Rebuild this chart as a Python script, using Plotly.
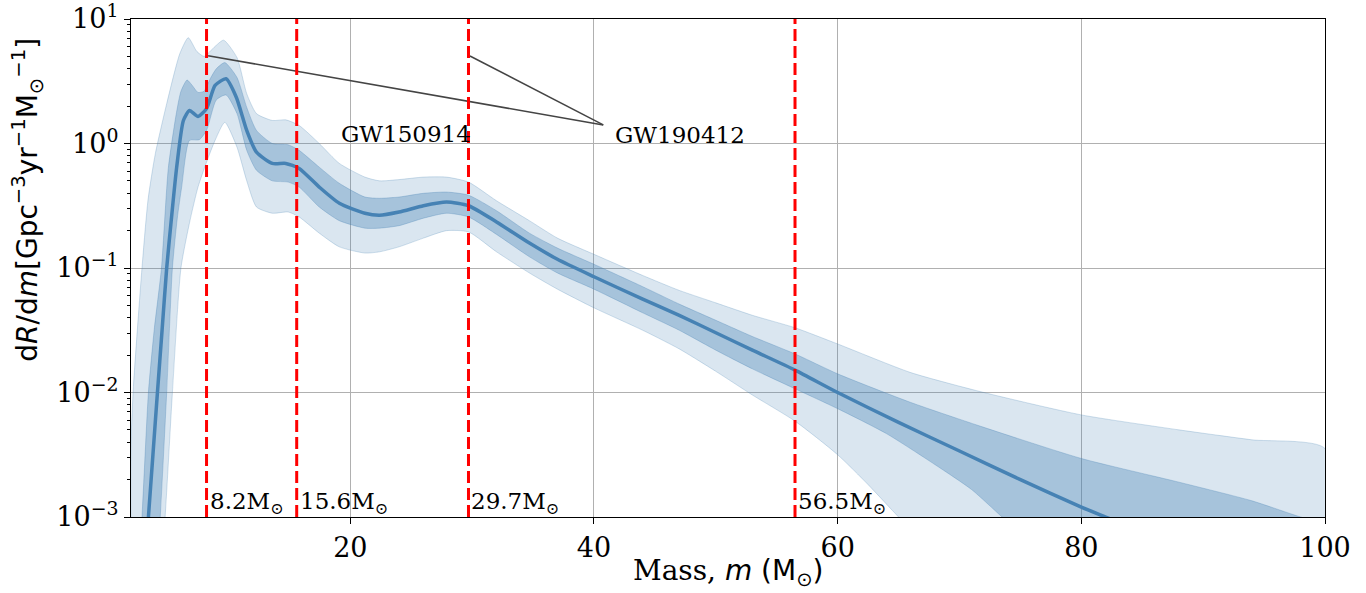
import plotly.graph_objects as go

# ---------------- data (log10 of dR/dm) ----------------
median_m = [3.0, 3.43, 3.8, 4.17, 4.55, 4.93, 5.3, 5.75, 6.3, 6.8, 7.5, 8.2, 8.9, 9.8, 10.65,
            11.5, 12.3, 13.6, 14.7, 15.8, 17.45, 19.1, 21.2, 22.4, 24, 26, 27.9, 29.7, 32,
            34.7, 37, 40, 44, 47, 50, 53, 56.5, 60, 65, 70, 75, 80, 82, 85]
median_log = [-3.6, -3.0, -2.5, -2.0, -1.5, -1.0, -0.62, -0.19, 0.185, 0.265, 0.217, 0.28, 0.466,
              0.52, 0.37, 0.105, -0.07, -0.16, -0.16, -0.20, -0.35, -0.48, -0.56, -0.576, -0.55,
              -0.50, -0.47, -0.50, -0.63, -0.80, -0.93, -1.07, -1.25, -1.38, -1.52, -1.66, -1.82,
              -2.0, -2.24, -2.47, -2.70, -2.92, -3.0, -3.12]

inner_up_m = [2.5, 2.9, 3.43, 3.9, 4.5, 5.06, 5.7, 6.1, 6.6, 7.0, 7.5, 8.0, 8.5, 9.0, 9.7, 10.7,
              11.5, 12.3, 13.6, 14.9, 15.8, 17.45, 19.1, 21.2, 22.4, 24, 26, 27.9, 29.7, 32, 34.7,
              37, 40, 44, 47, 50, 53, 56.5, 60, 66, 72, 80, 88, 94, 98, 100]
inner_up_log = [-3.6, -3.0, -2.0, -1.5, -1.0, -0.2, 0.23, 0.42, 0.51, 0.47, 0.41, 0.42, 0.52, 0.60,
                0.65, 0.53, 0.29, 0.105, 0.0, -0.01, -0.055, -0.19, -0.32, -0.43, -0.44, -0.43,
                -0.40, -0.39, -0.415, -0.54, -0.72, -0.84, -0.97, -1.15, -1.29, -1.42, -1.55,
                -1.69, -1.85, -2.08, -2.28, -2.53, -2.72, -2.87, -3.0, -3.05]

inner_lo_m = [4.0, 4.4, 4.93, 5.4, 5.8, 6.16, 6.8, 7.6, 8.2, 9.0, 9.8, 10.7, 11.5, 12.3, 13.6,
              14.9, 15.8, 17.45, 19.1, 21.2, 22.4, 24, 26, 27.9, 29.7, 32, 34.7, 37, 40, 44, 47,
              50, 53, 56.5, 60, 64, 68, 71, 73.5, 76]
inner_lo_log = [-3.6, -3.0, -2.0, -1.0, -0.6, -0.35, 0.025, 0.03, 0.105, 0.35, 0.39, 0.24, -0.055,
                -0.215, -0.30, -0.31, -0.35, -0.51, -0.62, -0.68, -0.68, -0.66, -0.60, -0.56,
                -0.59, -0.73, -0.91, -1.04, -1.17, -1.36, -1.50, -1.66, -1.81, -1.97, -2.13,
                -2.33, -2.58, -2.78, -3.0, -3.2]

outer_up_m = [2.0, 2.2, 2.9, 3.4, 4.0, 4.93, 6.0, 6.7, 7.4, 8.0, 8.9, 9.6, 10.7, 11.5, 12.3, 13.6,
              14.7, 15.8, 17.45, 19.1, 21.2, 22.4, 24, 26, 27.9, 29.7, 32, 34.7, 37, 40, 44, 47,
              50, 53, 56.5, 60, 66, 72, 80, 88, 94, 100]
outer_up_log = [-2.4, -1.95, -1.0, -0.45, -0.08, 0.32, 0.72, 0.85, 0.74, 0.70, 0.78, 0.83, 0.69,
                0.40, 0.24, 0.185, 0.19, 0.145, 0.0, -0.16, -0.27, -0.30, -0.29, -0.27, -0.27,
                -0.31, -0.46, -0.62, -0.76, -0.89, -1.06, -1.18, -1.28, -1.38, -1.48, -1.61,
                -1.84, -2.0, -2.18, -2.30, -2.38, -2.45]

outer_lo_m = [4.3, 4.8, 5.4, 6.1, 6.84, 7.5, 8.2, 8.9, 9.7, 10.7, 11.5, 12.3, 13.6, 14.9, 15.8,
              17.45, 19.1, 21.2, 22.4, 24, 26, 27.9, 29.7, 32, 34.7, 37, 40, 44, 47, 50, 53,
              56.5, 60, 62.5, 65, 67]
outer_lo_log = [-3.6, -3.0, -2.0, -1.0, -0.62, -0.35, -0.15, 0.025, 0.17, -0.03, -0.30, -0.51,
                -0.56, -0.55, -0.59, -0.72, -0.83, -0.88, -0.87, -0.83, -0.76, -0.70, -0.71,
                -0.87, -1.04, -1.17, -1.32, -1.50, -1.65, -1.83, -2.02, -2.23, -2.50, -2.74,
                -3.0, -3.2]

peak_masses = [8.2, 15.6, 29.7, 56.5]
peak_labels = ["8.2M<sub>⊙</sub>", "15.6M<sub>⊙</sub>", "29.7M<sub>⊙</sub>", "56.5M<sub>⊙</sub>"]

events = ["GW150914", "GW190412"]
event_text_m = [19.1, 41.6]
event_text_log = [0.075, 0.065]
pointer_from = (40.76, 0.149)
pointer_to = [(8.33, 0.705), (29.82, 0.703)]

x_ticks = [20, 40, 60, 80, 100]
y_ticks = [1e-3, 1e-2, 1e-1, 1, 10]
y_tick_text = ["10<sup>−3</sup>", "10<sup>−2</sup>", "10<sup>−1</sup>", "10<sup>0</sup>", "10<sup>1</sup>"]

FLOOR = -3.6
XMIN, XMAX = 2.0, 100.0

def lin(v):
    return [10 ** a for a in v]

minor_y = [k * 10 ** e for e in range(-3, 1) for k in range(2, 10)]

SERIF = "DejaVu Serif"
SANS = "DejaVu Sans"
BLUE = "rgb(70,130,180)"

fig = go.Figure()

# outer band polygon
ox = [outer_up_m[0]] + outer_up_m + [outer_up_m[-1]] + outer_lo_m[::-1]
oy = [FLOOR] + outer_up_log + [FLOOR] + outer_lo_log[::-1]
fig.add_trace(go.Scatter(x=ox, y=lin(oy), fill="toself", mode="lines",
                         line=dict(width=1, color="rgba(70,130,180,0.25)", shape="spline", smoothing=0.6),
                         fillcolor="rgba(70,130,180,0.2)", hoverinfo="skip", showlegend=False))
# inner band polygon
ix = inner_up_m + inner_lo_m[::-1]
iy = inner_up_log + inner_lo_log[::-1]
fig.add_trace(go.Scatter(x=ix, y=lin(iy), fill="toself", mode="lines",
                         line=dict(width=1, color="rgba(70,130,180,0.3)", shape="spline", smoothing=0.6),
                         fillcolor="rgba(70,130,180,0.35)", hoverinfo="skip", showlegend=False))
# median
fig.add_trace(go.Scatter(x=median_m, y=lin(median_log), mode="lines",
                         line=dict(width=3.5, color=BLUE, shape="spline", smoothing=0.6),
                         showlegend=False))

# pointer lines for events
for (mx, ly) in pointer_to:
    fig.add_trace(go.Scatter(x=[pointer_from[0], mx], y=[10 ** pointer_from[1], 10 ** ly],
                             mode="lines", line=dict(width=1.5, color="#444444"),
                             showlegend=False, hoverinfo="skip"))

# dashed vertical lines + labels
for m, lab in zip(peak_masses, peak_labels):
    fig.add_shape(type="line", x0=m, x1=m, y0=0, y1=1, xref="x", yref="paper",
                  line=dict(color="red", width=3, dash="12px,5px"), layer="above")
    fig.add_annotation(x=m, y=0, xref="x", yref="paper", text=lab, showarrow=False,
                       xanchor="left", yanchor="bottom", xshift=1, yshift=-3,
                       font=dict(family=SERIF, size=23, color="black"))

for name, mx, ly in zip(events, event_text_m, event_text_log):
    fig.add_annotation(x=mx, y=ly, xref="x", yref="y", text=name, showarrow=False,
                       xanchor="left", yanchor="middle",
                       font=dict(family=SERIF, size=23, color="black"))

# axis titles
fig.add_annotation(x=0.5, y=-0.07, xref="paper", yref="paper",
                   text="Mass, <span style='font-family:DejaVu Sans'><i>m</i> (M<sub>⊙</sub>)</span>",
                   showarrow=False, xanchor="center", yanchor="top",
                   font=dict(family=SERIF, size=28, color="black"))
fig.add_annotation(x=-0.0863, y=0.637, xref="paper", yref="paper",
                   text="d<i>R</i>/d<i>m</i>[Gpc<sup>−3</sup>yr<sup>−1</sup>M<sub>⊙</sub><sup>−1</sup>]",
                   showarrow=False, textangle=-90, xanchor="center", yanchor="middle",
                   font=dict(family=SANS, size=28, color="black"))

fig.update_layout(
    width=1366, height=593,
    margin=dict(l=131, r=41, t=19, b=76, autoexpand=False),
    paper_bgcolor="white", plot_bgcolor="white",
    showlegend=False,
    xaxis=dict(range=[XMIN, XMAX], tickvals=x_ticks, ticks="outside", ticklen=6, tickwidth=1.2,
               tickcolor="black", showline=True, linecolor="black", linewidth=1.2, mirror=True,
               showgrid=True, gridcolor="#b0b0b0", gridwidth=1, zeroline=False, automargin=False,
               ticklabeloverflow="allow",
               tickfont=dict(family=SERIF, size=27, color="black")),
    yaxis=dict(type="log", range=[-3, 1], tickvals=y_ticks, ticktext=y_tick_text,
               ticks="outside", ticklen=6, tickwidth=1.2, tickcolor="black",
               showline=True, linecolor="black", linewidth=1.2, mirror=True,
               showgrid=True, gridcolor="#b0b0b0", gridwidth=1, zeroline=False, automargin=False,
               ticklabeloverflow="allow",
               minor=dict(tickvals=minor_y, ticks="outside", ticklen=3, tickcolor="black",
                          showgrid=False),
               tickfont=dict(family=SERIF, size=27, color="black")),
)

fig.write_html("out.html", config={"displayModeBar": False},
               post_script="document.body.style.margin='0px';document.body.style.overflow='hidden';")
